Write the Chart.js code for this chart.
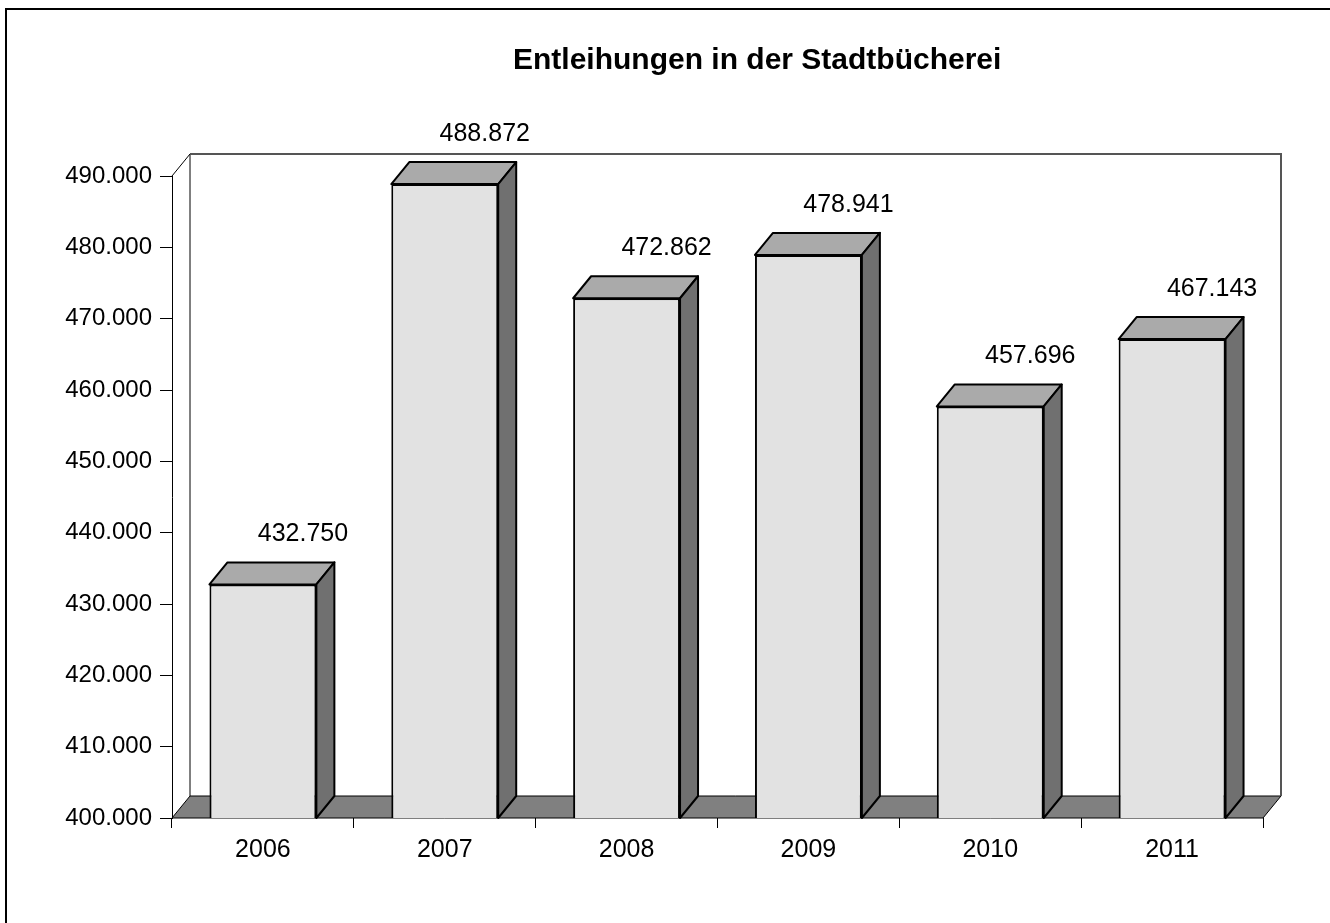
<!DOCTYPE html>
<html>
<head>
<meta charset="utf-8">
<title>Entleihungen in der Stadtbücherei</title>
<script src="https://cdn.jsdelivr.net/npm/chart.js@4/dist/chart.umd.min.js"></script>
<style>
  body { margin: 0; background: #fff; }
  canvas { display: block; }
</style>
</head>
<body>
<canvas id="chart" width="1330" height="923"></canvas>
<script>
var years = ["2006", "2007", "2008", "2009", "2010", "2011"];
var loans = [432750, 488872, 472862, 478941, 457696, 467143];
var yMin = 400000;
var yMax = 490000;
var yStep = 10000;
var titleText = "Entleihungen in der Stadtbücherei";

// depth offset of the 3d effect
var DX = 18;
var DY = -22;
var FONT = "'Liberation Sans', Arial, sans-serif";

function formatDe(v) {
    return String(v).replace(/\B(?=(\d{3})+(?!\d))/g, ".");
}

function poly(ctx, pts, fill) {
    ctx.beginPath();
    ctx.moveTo(pts[0][0], pts[0][1]);
    for (var i = 1; i < pts.length; i++) ctx.lineTo(pts[i][0], pts[i][1]);
    ctx.closePath();
    if (fill) {
        ctx.fillStyle = fill;
        ctx.fill();
    }
    ctx.stroke();
}

// white page, outer frame and the heading
var background = {
    id: "background",
    beforeDraw: function (chart) {
        var ctx = chart.ctx;
        ctx.save();
        ctx.fillStyle = "#fff";
        ctx.fillRect(0, 0, chart.width, chart.height);
        ctx.strokeStyle = "#000";
        ctx.lineWidth = 2;
        ctx.strokeRect(6, 9, chart.width + 20, chart.height + 20);
        ctx.fillStyle = "#000";
        ctx.font = "bold 30px " + FONT;
        ctx.textAlign = "left";
        ctx.textBaseline = "middle";
        ctx.fillText(titleText, 513, 61);
        ctx.restore();
    },
};

// floor and back walls behind the bars, then bar tops, sides and values
var walls = {
    id: "walls",
    beforeDatasetsDraw: function (chart) {
        var ctx = chart.ctx;
        var a = chart.chartArea;
        ctx.save();
        ctx.lineWidth = 1;
        ctx.strokeStyle = "#000";
        poly(ctx, [
            [a.left, a.bottom],
            [a.right, a.bottom],
            [a.right + DX, a.bottom + DY],
            [a.left + DX, a.bottom + DY],
        ], "#808080");
        ctx.beginPath();
        ctx.moveTo(a.left, a.top);
        ctx.lineTo(a.left + DX, a.top + DY);
        ctx.lineTo(a.left + DX, a.bottom + DY);
        ctx.stroke();
        ctx.strokeStyle = "#555";
        ctx.lineWidth = 2;
        ctx.beginPath();
        ctx.moveTo(a.left + DX, a.top + DY);
        ctx.lineTo(a.right + DX, a.top + DY);
        ctx.lineTo(a.right + DX, a.bottom + DY);
        ctx.stroke();
        ctx.restore();
    },
    afterDatasetsDraw: function (chart) {
        var ctx = chart.ctx;
        var bars = chart.getDatasetMeta(0).data;
        var floor = chart.scales.y.getPixelForValue(yMin);
        ctx.save();
        ctx.strokeStyle = "#000";
        ctx.lineWidth = 2;
        ctx.lineJoin = "round";
        bars.forEach(function (bar, i) {
            var l = bar.x - bar.width / 2;
            var r = bar.x + bar.width / 2;
            var t = bar.y;
            var b = floor;
            poly(ctx, [[l, t], [r, t], [r + DX, t + DY], [l + DX, t + DY]], "#aaaaaa");
            poly(ctx, [[r, t], [r + DX, t + DY], [r + DX, b + DY], [r, b]], "#707070");
            ctx.fillStyle = "#000";
            ctx.font = "25px " + FONT;
            ctx.textAlign = "center";
            ctx.textBaseline = "middle";
            ctx.fillText(formatDe(loans[i]), bar.x + 40, t - 50);
        });
        ctx.restore();
    },
};

var ctx = document.getElementById("chart").getContext("2d");
var chart = new Chart(ctx, {
    type: "bar",
    data: {
        labels: years,
        datasets: [
            {
                data: loans,
                backgroundColor: "#e2e2e2",
                borderColor: "#000",
                borderWidth: 2,
                borderSkipped: false,
                barPercentage: 0.588,
                categoryPercentage: 1,
            },
        ],
    },
    options: {
        responsive: false,
        animation: false,
        layout: {
            padding: { left: 0, right: 67, top: 176, bottom: 0 },
        },
        scales: {
            x: {
                offset: true,
                grid: {
                    offset: true,
                    drawOnChartArea: false,
                    drawTicks: true,
                    tickLength: 10,
                    color: "#000",
                },
                border: { display: false },
                ticks: {
                    color: "#000",
                    font: { family: FONT, size: 25 },
                    padding: 7,
                },
                afterFit: function (scale) {
                    scale.height = 105;
                },
            },
            y: {
                min: yMin,
                max: yMax,
                grid: {
                    drawOnChartArea: false,
                    drawTicks: true,
                    tickLength: 12,
                    color: "#000",
                },
                border: { display: true, color: "#000", width: 1 },
                ticks: {
                    stepSize: yStep,
                    color: "#000",
                    font: { family: FONT, size: 24 },
                    padding: 8,
                    callback: function (v) {
                        return formatDe(v);
                    },
                },
                afterFit: function (scale) {
                    scale.width = 172;
                },
            },
        },
        plugins: {
            legend: { display: false },
            tooltip: { enabled: false },
            title: { display: false },
        },
    },
    plugins: [background, walls],
});
</script>
</body>
</html>
